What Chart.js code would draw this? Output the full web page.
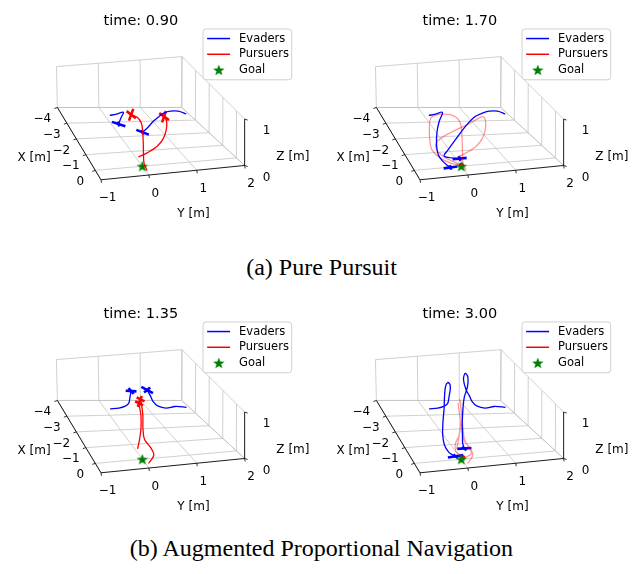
<!DOCTYPE html>
<html>
<head>
<meta charset="utf-8">
<script src="https://cdn.jsdelivr.net/npm/chart.js@4.4.0/dist/chart.umd.min.js"></script>
<style>
  body { margin: 0; background: #fff; width: 643px; height: 574px; position: relative; overflow: hidden; }
  .panel { position: absolute; width: 320px; height: 240px; }
  .cap { position: absolute; left: 0; width: 643px; text-align: center; font-family: "Liberation Serif", serif; font-size: 24px; color: #000; }
</style>
</head>
<body>
<div class="panel" style="left:0;top:0"><canvas id="c1" width="320" height="240"></canvas></div>
<div class="panel" style="left:319px;top:0"><canvas id="c2" width="320" height="240"></canvas></div>
<div class="panel" style="left:0;top:293px"><canvas id="c3" width="320" height="240"></canvas></div>
<div class="panel" style="left:319px;top:293px"><canvas id="c4" width="320" height="240"></canvas></div>
<div class="cap" style="top:254px">(a) Pure Pursuit</div>
<div class="cap" style="top:535px">(b) Augmented Proportional Navigation</div>
<script>
// axes
const xTicks = [-4, -3, -2, -1, 0];
const yTicks = [-1, 0, 1, 2];
const zTicks = [0, 1];
const xLim = [-4, 0.6];
const yLim = [-1, 2];
const zLim = [0, 1];
const goal = [0, 0, 0];

// pure pursuit, time 0.90   [x, y, z] in metres
const pp090Evader1 = [[-2.07,-0.22,0.5],[-2.12,-0.06,0.5],[-2.20,0.12,0.5],[-1.99,0.01,0.45],[-1.75,-0.10,0.4]];
const pp090Evader2 = [[-1.74,1.41,0.5],[-1.98,1.30,0.5],[-2.02,1.13,0.5],[-1.94,0.97,0.5],[-1.76,0.82,0.5],[-1.46,0.60,0.5],[-1.09,0.38,0.5],[-0.84,0.21,0.5]];
const pp090Pursuer1 = [[0.30,0.03,0],[-0.06,0.05,0.05],[-0.40,0.12,0.15],[-0.79,0.21,0.25],[-1.24,0.31,0.35],[-1.63,0.38,0.42],[-1.90,0.36,0.46],[-2.06,0.26,0.48]];
const pp090Pursuer2 = [[-0.62,0.06,0],[-0.57,0.24,0.1],[-0.65,0.47,0.2],[-0.85,0.66,0.3],[-1.16,0.81,0.4],[-1.56,0.92,0.45],[-1.76,0.92,0.48]];

// pure pursuit, time 1.70
const pp170Evader1 = [[-2.07,-0.22,0.5],[-2.12,-0.06,0.5],[-2.20,0.12,0.5],[-1.77,-0.06,0.45],[-1.22,-0.24,0.4],[-0.69,-0.37,0.3],[-0.35,-0.41,0.2],[-0.14,-0.37,0.12],[0.02,-0.30,0.06],[0.09,-0.25,0.03]];
const pp170Evader2 = [[-1.74,1.41,0.5],[-1.98,1.30,0.5],[-2.02,1.13,0.5],[-1.94,0.97,0.5],[-1.74,0.73,0.5],[-1.33,0.42,0.45],[-0.85,0.09,0.35],[-0.46,-0.18,0.25],[-0.27,-0.30,0.18],[-0.19,0.01,0.12]];
const pp170Pursuer1 = [[0.30,0.03,0],[-0.06,0.05,0.05],[-0.40,0.12,0.15],[-0.79,0.21,0.25],[-1.24,0.31,0.35],[-1.63,0.38,0.42],[-1.90,0.36,0.46],[-2.06,0.26,0.48],[-2.09,0.08,0.5],[-2.06,-0.07,0.5],[-1.94,-0.21,0.48],[-1.55,-0.33,0.44],[-0.89,-0.47,0.35],[-0.53,-0.50,0.25],[-0.27,-0.39,0.15],[-0.09,-0.19,0.06],[-0.03,0.01,0.02]];
const pp170Pursuer2 = [[-0.62,0.06,0],[-0.57,0.24,0.1],[-0.65,0.47,0.2],[-0.85,0.66,0.3],[-1.16,0.81,0.4],[-1.56,0.92,0.45],[-1.76,0.92,0.48],[-1.65,0.73,0.46],[-1.50,0.50,0.42],[-1.27,0.09,0.36],[-0.98,-0.27,0.3],[-0.71,-0.38,0.22],[-0.37,-0.29,0.13],[-0.14,-0.11,0.06],[-0.03,0.01,0.02]];

// augmented proportional navigation, time 1.35
const apn135Evader1 = [[-2.04,-0.22,0.5],[-2.05,-0.02,0.5],[-2.12,0.13,0.5],[-2.16,0.23,0.55],[-2.26,0.28,0.62],[-2.34,0.32,0.7],[-2.45,0.36,0.72]];
const apn135Evader2 = [[-1.72,1.41,0.5],[-1.84,1.19,0.5],[-1.79,0.97,0.5],[-1.92,0.82,0.52],[-2.07,0.76,0.57],[-2.32,0.76,0.63],[-2.54,0.75,0.68]];
const apn135Pursuer1 = [[-0.69,0.06,0],[-0.91,0.15,0.1],[-1.16,0.25,0.3],[-1.43,0.32,0.5],[-1.61,0.34,0.62],[-1.75,0.36,0.68]];
const apn135Pursuer2 = [[0.31,0.06,0],[-0.07,0.26,0.05],[-0.40,0.27,0.12],[-0.72,0.22,0.2],[-1.10,0.28,0.32],[-1.42,0.36,0.5],[-1.66,0.40,0.62],[-1.93,0.44,0.7]];

// augmented proportional navigation, time 3.00
const apn300Evader1 = [[-2.04,-0.22,0.5],[-2.05,-0.02,0.5],[-2.12,0.13,0.5],[-2.16,0.23,0.55],[-2.26,0.28,0.62],[-2.34,0.32,0.7],[-2.45,0.36,0.72],[-2.48,0.37,0.85],[-2.37,0.29,0.95],[-2.17,0.19,0.95],[-1.79,0.07,0.85],[-1.42,-0.03,0.72],[-1.02,-0.15,0.58],[-0.63,-0.25,0.42],[-0.30,-0.29,0.28],[-0.10,-0.24,0.16],[0.04,-0.13,0.1]];
const apn300Evader2 = [[-1.72,1.41,0.5],[-1.84,1.19,0.5],[-1.79,0.97,0.5],[-1.92,0.82,0.52],[-2.07,0.76,0.57],[-2.32,0.76,0.63],[-2.54,0.75,0.68],[-2.76,0.75,0.85],[-2.82,0.81,0.95],[-2.57,0.80,0.95],[-2.24,0.70,0.85],[-2.01,0.57,0.72],[-1.74,0.47,0.6],[-1.23,0.32,0.42],[-0.81,0.22,0.28],[-0.55,0.16,0.18],[-0.36,0.15,0.12]];
const apn300Pursuer1 = [[-0.69,0.06,0],[-0.91,0.15,0.1],[-1.16,0.25,0.3],[-1.43,0.32,0.5],[-1.61,0.34,0.62],[-1.75,0.36,0.68],[-1.36,0.29,0.6],[-0.86,0.19,0.45],[-0.62,0.09,0.32],[-0.48,-0.01,0.22],[-0.27,-0.06,0.12],[-0.10,0.01,0.05],[-0.04,0.04,0.03]];
const apn300Pursuer2 = [[0.31,0.06,0],[-0.07,0.26,0.05],[-0.40,0.27,0.12],[-0.72,0.22,0.2],[-1.10,0.28,0.32],[-1.42,0.36,0.5],[-1.66,0.40,0.62],[-1.93,0.44,0.7],[-1.47,0.36,0.6],[-0.85,0.24,0.45],[-0.46,0.18,0.3],[-0.16,0.21,0.18],[-0.06,0.23,0.1],[0.02,0.10,0.05],[-0.03,0.04,0.03]];

// quadrotor arm half-vectors at the last sample (one pair per drone), metres
const pp090EvaderArms = [[[0.17,0.11,0],[0.15,-0.02,0]], [[0.19,0.09,0],[0.15,-0.02,0]]];
const pp090PursuerArms = [[[0.25,0.04,0],[0.36,-0.14,0]], [[0.25,0.04,0],[0.36,-0.14,0]]];
const pp170EvaderArms = [[[-0.02,0.15,0],[0.15,-0.02,0]], [[0.0,0.15,0],[0.15,-0.02,0]]];
const pp170PursuerArms = [[[0.06,0.03,0],[0.05,-0.05,0]], [[0.06,0.03,0],[0.05,-0.05,0]]];
const apn135EvaderArms = [[[0.05,0.11,0],[0.19,0.01,0]], [[0.23,0.07,0],[-0.15,0.11,0]]];
const apn135PursuerArms = [[[0.15,0.05,0],[0.2,-0.08,0]], [[0.15,0.05,0],[0.2,-0.08,0]]];
const apn300EvaderArms = [[[-0.03,0.17,0],[0.12,0.02,0]], [[0.01,0.15,0],[0.12,0.02,0]]];
const apn300PursuerArms = [[[0.06,0.03,0],[0.05,-0.05,0]], [[0.06,0.03,0],[0.05,-0.05,0]]];

// screen geometry of the 3D box inside each panel (pixels)
const BOX = {
  floor: { a: [52.7,106.7], b: [182.7,106.7], c: [98.3,183.5], d: [248.5,168.3] },
  top:   { a: [51.7,63.3],  b: [183,52.7],    c: [97.3,144.8], d: [248.5,119] }
};

function project(p) {
  const u = (p[0] - xLim[0]) / (xLim[1] - xLim[0]);
  const v = (p[1] - yLim[0]) / (yLim[1] - yLim[0]);
  const w = (p[2] - zLim[0]) / (zLim[1] - zLim[0]);
  const bil = q => [0, 1].map(k => q.a[k]*(1-u)*(1-v) + q.b[k]*(1-u)*v + q.c[k]*u*(1-v) + q.d[k]*u*v);
  const f = bil(BOX.floor), t = bil(BOX.top);
  return { x: f[0] + w*(t[0]-f[0]), y: f[1] + w*(t[1]-f[1]) };
}

function makeStar(color, r) {
  const c = document.createElement('canvas');
  const s = Math.ceil(2*r + 2);
  c.width = s; c.height = s;
  const g = c.getContext('2d');
  g.beginPath();
  for (let i = 0; i < 10; i++) {
    const rr = i % 2 === 0 ? r : r * 0.42;
    const a = -Math.PI/2 + i * Math.PI/5;
    g.lineTo(s/2 + rr*Math.cos(a), s/2 + 0.5 + rr*Math.sin(a));
  }
  g.closePath();
  g.fillStyle = color;
  g.fill();
  return c;
}
const starImg = makeStar('#008000', 6);

const FONT = '"DejaVu Sans", sans-serif';
const GRID = '#c4c4c4';

const box3d = {
  id: 'box3d',
  beforeDatasetsDraw(chart) {
    const ctx = chart.ctx;
    const sx = chart.scales.x, sy = chart.scales.y;
    const P = p => { const q = project(p); return [sx.getPixelForValue(q.x), sy.getPixelForValue(q.y)]; };
    const seg = (p, q, color, lw) => {
      const a = P(p), b = P(q);
      ctx.beginPath(); ctx.moveTo(a[0], a[1]); ctx.lineTo(b[0], b[1]);
      ctx.strokeStyle = color; ctx.lineWidth = lw; ctx.stroke();
    };
    ctx.save();
    // floor grid
    xTicks.forEach(t => seg([t, yLim[0], 0], [t, yLim[1], 0], GRID, 0.8));
    yTicks.forEach(t => seg([xLim[0], t, 0], [xLim[1], t, 0], GRID, 0.8));
    // back pane x = xLim[0]
    yTicks.forEach(t => seg([xLim[0], t, zLim[0]], [xLim[0], t, zLim[1]], GRID, 0.8));
    zTicks.forEach(t => seg([xLim[0], yLim[0], t], [xLim[0], yLim[1], t], GRID, 0.8));
    // side pane y = yLim[1]
    xTicks.forEach(t => seg([t, yLim[1], zLim[0]], [t, yLim[1], zLim[1]], GRID, 0.8));
    zTicks.forEach(t => seg([xLim[0], yLim[1], t], [xLim[1], yLim[1], t], GRID, 0.8));
    // axis lines
    seg([xLim[0], yLim[0], 0], [xLim[1], yLim[0], 0], '#000', 0.9);
    seg([xLim[1], yLim[0], 0], [xLim[1], yLim[1], 0], '#000', 0.9);
    seg([xLim[1], yLim[1], zLim[0]], [xLim[1], yLim[1], zLim[1]], '#000', 0.9);

    ctx.fillStyle = '#000';
    ctx.font = '12px ' + FONT;
    ctx.textAlign = 'center';
    ctx.textBaseline = 'middle';
    const lab = v => (v < 0 ? '\u2212' + Math.abs(v) : String(v));
    const tick = (a, dx, dy) => {
      ctx.beginPath(); ctx.moveTo(a[0], a[1]); ctx.lineTo(a[0] + dx, a[1] + dy);
      ctx.strokeStyle = '#000'; ctx.lineWidth = 0.8; ctx.stroke();
    };
    xTicks.forEach(t => {
      const a = P([t, yLim[0], 0]);
      tick(a, -3, 1);
      ctx.fillText(lab(t), a[0] - 15, a[1] + 11.5);
    });
    yTicks.forEach(t => {
      const a = P([xLim[1], t, 0]);
      tick(a, 0.5, 3);
      ctx.fillText(lab(t), a[0] + 6.5, a[1] + 18.4);
    });
    zTicks.forEach(t => {
      const a = P([xLim[1], yLim[1], t]);
      tick(a, 3, 1);
      ctx.fillText(lab(t), a[0] + 22, a[1] + 12);
    });
    const at = (x, y) => [sx.getPixelForValue(x), sy.getPixelForValue(y)];
    let q = at(28.3, 160); ctx.fillText('X [m]', q[0], q[1]);
    q = at(195, 219.5); ctx.fillText('Y [m]', q[0], q[1]);
    q = at(299, 159.5); ctx.fillText('Z [m]', q[0], q[1]);
    ctx.restore();
  },
  afterDraw(chart) {
    const ctx = chart.ctx;
    const sx = chart.scales.x, sy = chart.scales.y;
    const at = (x, y) => [sx.getPixelForValue(x), sy.getPixelForValue(y)];
    ctx.save();
    // title
    ctx.fillStyle = '#000';
    ctx.font = '14.5px ' + FONT;
    ctx.textAlign = 'center';
    ctx.textBaseline = 'middle';
    let q = at(140, 15.5);
    ctx.fillText('time: ' + chart.options.plugins.box3d.time, q[0], q[1]);
    // legend
    const a = at(205, 23.3), b = at(297.7, 77.3);
    const r = 3;
    ctx.beginPath();
    ctx.moveTo(a[0] + r, a[1]);
    ctx.arcTo(b[0], a[1], b[0], b[1], r);
    ctx.arcTo(b[0], b[1], a[0], b[1], r);
    ctx.arcTo(a[0], b[1], a[0], a[1], r);
    ctx.arcTo(a[0], a[1], b[0], a[1], r);
    ctx.closePath();
    ctx.fillStyle = 'rgba(255,255,255,0.85)';
    ctx.fill();
    ctx.strokeStyle = '#d0d0d0';
    ctx.lineWidth = 1;
    ctx.stroke();
    const rows = [['Evaders', '#0000ff'], ['Pursuers', '#ff0000'], ['Goal', null]];
    ctx.font = '11.5px ' + FONT;
    ctx.textAlign = 'left';
    rows.forEach((row, i) => {
      const y = 33.5 + i * 16.7;
      const l0 = at(209.3, y), l1 = at(233.3, y), tx = at(242.7, y);
      if (row[1]) {
        ctx.beginPath(); ctx.moveTo(l0[0], l0[1]); ctx.lineTo(l1[0], l1[1]);
        ctx.strokeStyle = row[1]; ctx.lineWidth = 1.5; ctx.stroke();
      } else {
        const c = at(221.5, y);
        ctx.drawImage(starImg, c[0] - starImg.width/2, c[1] - starImg.height/2);
      }
      ctx.fillStyle = '#000';
      ctx.fillText(row[0], tx[0], tx[1]);
    });
    ctx.restore();
  }
};

function lineSet(points, color) {
  return { data: points.map(project), showLine: true, borderColor: color, borderWidth: 1.3,
           pointRadius: 0, tension: 0.35, fill: false };
}
function armSets(points, arms, color) {
  const c = points[points.length - 1];
  return arms.map(a => ({
    data: [project([c[0]-a[0], c[1]-a[1], c[2]-a[2]]), project([c[0]+a[0], c[1]+a[1], c[2]+a[2]])],
    showLine: true, borderColor: color, borderWidth: 2.6, pointRadius: 0, tension: 0, fill: false
  }));
}

function drawPanel(id, time, evaders, pursuers, evArms, puArms, faded) {
  const red = faded ? 'rgba(255,0,0,0.4)' : '#ff0000';
  const datasets = [];
  evaders.forEach(e => datasets.push(lineSet(e, '#0000ff')));
  pursuers.forEach(p => datasets.push(lineSet(p, red)));
  datasets.push({ data: [project(goal)], pointStyle: starImg, pointRadius: 6, showLine: false });
  evaders.forEach((e, i) => armSets(e, evArms[i], '#0000ff').forEach(d => datasets.push(d)));
  pursuers.forEach((p, i) => armSets(p, puArms[i], '#ff0000').forEach(d => datasets.push(d)));
  new Chart(document.getElementById(id), {
    type: 'scatter',
    data: { datasets },
    options: {
      responsive: false,
      animation: false,
      layout: { padding: 0 },
      plugins: { legend: { display: false }, tooltip: { enabled: false }, box3d: { time } },
      scales: {
        x: { type: 'linear', min: 0, max: 320, display: false },
        y: { type: 'linear', min: 0, max: 240, reverse: true, display: false }
      }
    },
    plugins: [box3d]
  });
}

drawPanel('c1', '0.90', [pp090Evader1, pp090Evader2], [pp090Pursuer1, pp090Pursuer2], pp090EvaderArms, pp090PursuerArms, false);
drawPanel('c2', '1.70', [pp170Evader1, pp170Evader2], [pp170Pursuer1, pp170Pursuer2], pp170EvaderArms, pp170PursuerArms, true);
drawPanel('c3', '1.35', [apn135Evader1, apn135Evader2], [apn135Pursuer1, apn135Pursuer2], apn135EvaderArms, apn135PursuerArms, false);
drawPanel('c4', '3.00', [apn300Evader1, apn300Evader2], [apn300Pursuer1, apn300Pursuer2], apn300EvaderArms, apn300PursuerArms, true);
</script>
</body>
</html>
